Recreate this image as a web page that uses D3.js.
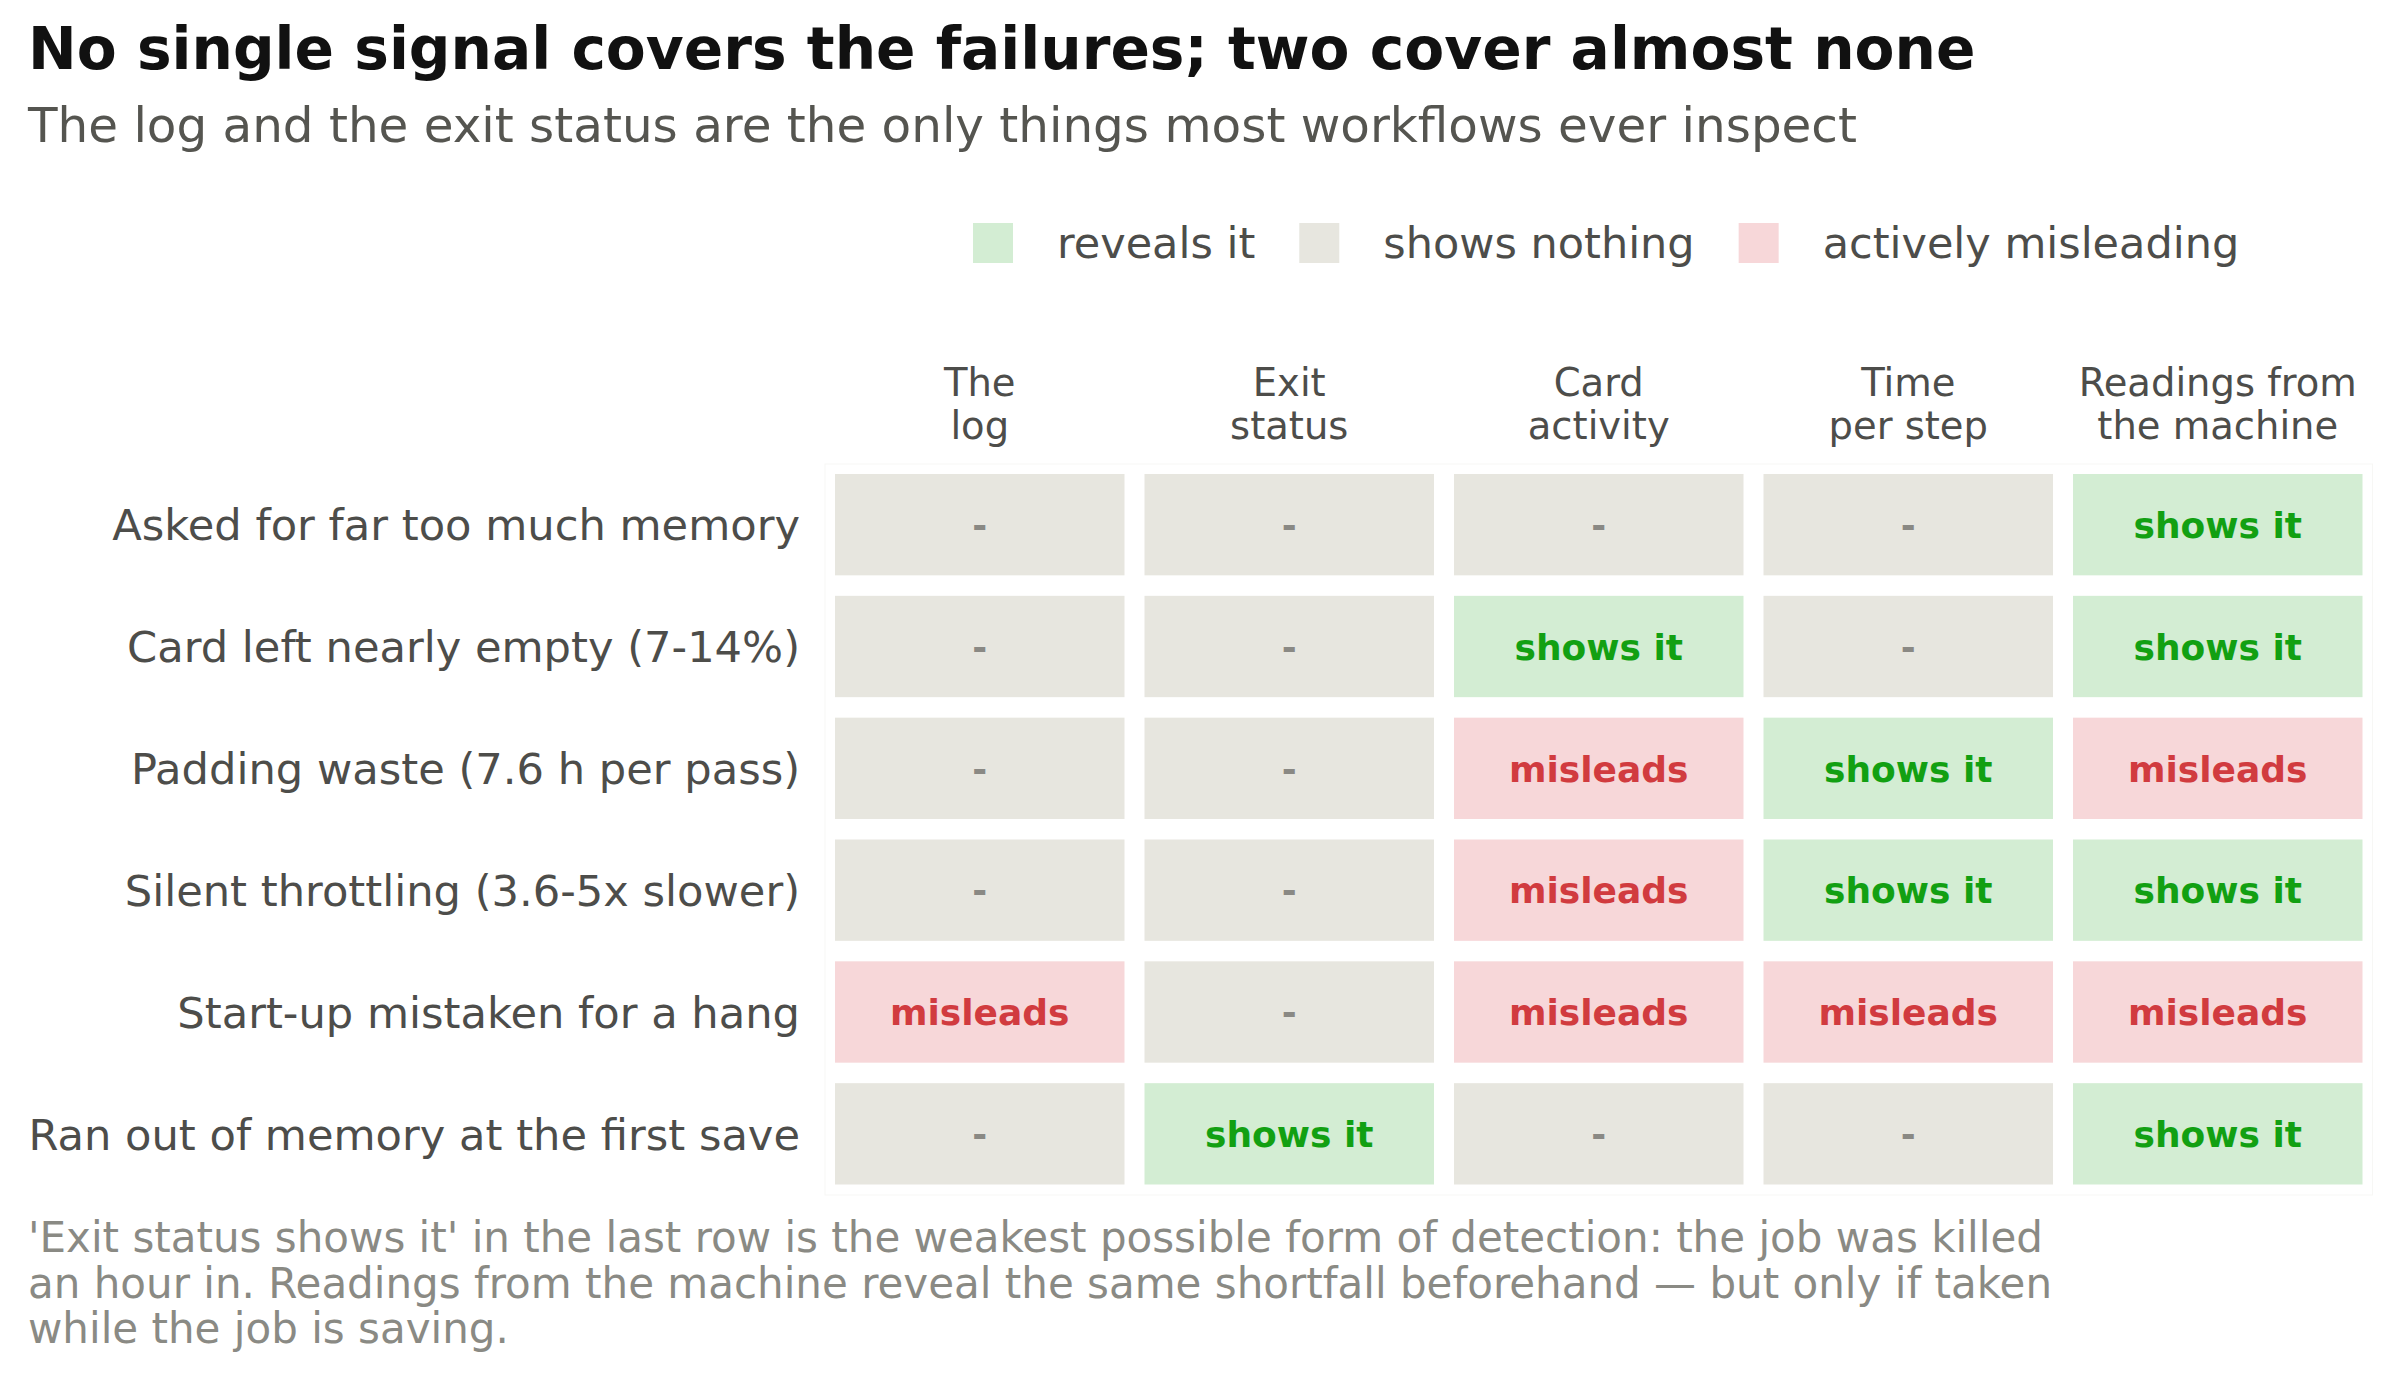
<!DOCTYPE html>
<html>
  <head>
    <meta charset="UTF-8" />
    <style>
      body { margin: 0; background: #ffffff; }
      svg { display: block; font-family: "DejaVu Sans", sans-serif; }
    </style>
  </head>
  <body>
    <svg></svg>
    <script src="https://d3js.org/d3.v7.min.js"></script>
    <script>
      let width = 2400,
        height = 1380;

      // signals (columns), two lines each
      const signals = [
        ["The", "log"],
        ["Exit", "status"],
        ["Card", "activity"],
        ["Time", "per step"],
        ["Readings from", "the machine"],
      ];

      const failures = [
        "Asked for far too much memory",
        "Card left nearly empty (7-14%)",
        "Padding waste (7.6 h per pass)",
        "Silent throttling (3.6-5x slower)",
        "Start-up mistaken for a hang",
        "Ran out of memory at the first save",
      ];

      // what each signal does for each failure
      const verdicts = [
        ["none", "none", "none", "none", "reveal"],
        ["none", "none", "reveal", "none", "reveal"],
        ["none", "none", "mislead", "reveal", "mislead"],
        ["none", "none", "mislead", "reveal", "reveal"],
        ["mislead", "none", "mislead", "mislead", "mislead"],
        ["none", "reveal", "none", "none", "reveal"],
      ];

      const kinds = ["reveal", "none", "mislead"];
      const kindLabels = ["reveals it", "shows nothing", "actively misleading"];
      const cellWords = ["shows it", "-", "misleads"];

      const footnote = [
        "'Exit status shows it' in the last row is the weakest possible form of detection: the job was killed",
        "an hour in. Readings from the machine reveal the same shortfall beforehand \u2014 but only if taken",
        "while the job is saving.",
      ];

      let fillColor = d3.scaleOrdinal().domain(kinds).range(["#d3edd3", "#e7e6df", "#f7d7d9"]);
      let textColor = d3.scaleOrdinal().domain(kinds).range(["#12a012", "#8a8984", "#d13b3f"]);
      let word = d3.scaleOrdinal().domain(kinds).range(cellWords);

      let svg = d3.select("svg").attr("width", width).attr("height", height);

      // title + subtitle
      svg.append("text")
        .attr("x", 28).attr("y", 69)
        .style("font-size", "58.2px").style("font-weight", "bold")
        .attr("fill", "#111111")
        .text("No single signal covers the failures; two cover almost none");

      svg.append("text")
        .attr("x", 28).attr("y", 142)
        .style("font-size", "48.4px")
        .attr("fill", "#555550")
        .text("The log and the exit status are the only things most workflows ever inspect");

      // legend
      let legend = svg.append("g").attr("class", "legend");
      let lx = 973;
      kinds.forEach((k, i) => {
        legend.append("rect")
          .attr("x", lx).attr("y", 223)
          .attr("width", 40).attr("height", 40)
          .attr("fill", fillColor(k));
        let t = legend.append("text")
          .attr("x", lx + 84).attr("y", 258)
          .style("font-size", "43px")
          .attr("fill", "#4d4d4a")
          .text(kindLabels[i]);
        lx = lx + 84 + t.node().getComputedTextLength() + 44;
      });

      // grid scales
      let x = d3.scaleBand().domain(d3.range(signals.length)).range([825, 2372.5]);
      let y = d3.scaleBand().domain(d3.range(failures.length)).range([464, 1195]);

      // faint frame round the table
      svg.append("rect")
        .attr("x", x.range()[0]).attr("y", y.range()[0])
        .attr("width", x.range()[1] - x.range()[0])
        .attr("height", y.range()[1] - y.range()[0])
        .attr("fill", "none")
        .attr("stroke", "#f7f7f5")
        .attr("stroke-width", 1);

      // column headers
      let heads = svg.append("g")
        .selectAll("text")
        .data(signals)
        .join("text")
        .attr("text-anchor", "middle")
        .style("font-size", "38.5px")
        .attr("fill", "#4d4d4a");
      heads.append("tspan")
        .attr("x", (d, i) => x(i) + x.bandwidth() / 2)
        .attr("y", 396)
        .text((d) => d[0]);
      heads.append("tspan")
        .attr("x", (d, i) => x(i) + x.bandwidth() / 2)
        .attr("y", 439)
        .text((d) => d[1]);

      // row labels
      svg.append("g")
        .selectAll("text")
        .data(failures)
        .join("text")
        .attr("x", 800)
        .attr("y", (d, i) => y(i) + y.bandwidth() / 2 + 15.5)
        .attr("text-anchor", "end")
        .style("font-size", "43.2px")
        .attr("fill", "#4d4d4a")
        .text((d) => d);

      // cells
      let cells = [];
      verdicts.forEach((row, r) => row.forEach((k, c) => cells.push({ r: r, c: c, k: k })));

      let cell = svg.append("g")
        .selectAll("g")
        .data(cells)
        .join("g");

      cell.append("rect")
        .attr("x", (d) => x(d.c) + 10)
        .attr("y", (d) => y(d.r) + 10)
        .attr("width", x.bandwidth() - 20)
        .attr("height", y.bandwidth() - 20.5)
        .attr("fill", (d) => fillColor(d.k));

      cell.append("text")
        .attr("x", (d) => x(d.c) + x.bandwidth() / 2)
        .attr("y", (d) => y(d.r) + y.bandwidth() / 2 + 13)
        .attr("text-anchor", "middle")
        .style("font-size", "36px")
        .style("font-weight", "bold")
        .attr("fill", (d) => textColor(d.k))
        .text((d) => word(d.k));

      // footnote
      svg.append("g")
        .selectAll("text")
        .data(footnote)
        .join("text")
        .attr("x", 28)
        .attr("y", (d, i) => 1252 + i * 45.5)
        .style("font-size", "42px")
        .attr("fill", "#8a8a84")
        .text((d) => d);
    </script>
  </body>
</html>
